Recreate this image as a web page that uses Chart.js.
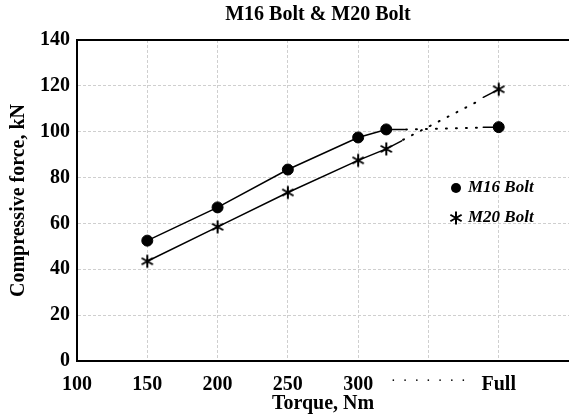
<!DOCTYPE html>
<html>
<head>
<meta charset="utf-8">
<script src="https://cdn.jsdelivr.net/npm/chart.js@4"></script>
<style>
  html, body { margin: 0; padding: 0; background: #fff; }
  #wrap { width: 569px; height: 416px; }
</style>
</head>
<body>
<div id="wrap"><canvas id="c"></canvas></div>
<script>
// x = 400 stands for "Full" torque
const torque = [150, 200, 250, 300, 320, 400];
const m16 = [52.5, 67, 83.5, 97.5, 101, 102];
const m20 = [43.5, 58.5, 73.5, 87.5, 92.5, 118.5];

// trend lines (solid part, dotted jump to Full, short solid tail)
const m16SolidX = [150, 200, 250, 300, 320, 333];
const m16SolidY = [52.5, 67, 83.5, 97.5, 101, 101];
const m16DotX = [334, 387];
const m16DotY = [101, 101.8];
const m16TailX = [389, 400];
const m16TailY = [102, 102];

const m20SolidX = [150, 200, 250, 300, 320, 331];
const m20SolidY = [43.5, 58.5, 73.5, 87.5, 92.5, 96];
const m20DotX = [332, 386];
const m20DotY = [96.5, 113.5];
const m20TailX = [389, 400];
const m20TailY = [115, 118.5];

const xTicks = { 350: '·  ·  ·  ·  ·  ·  ·', 400: 'Full', 450: '' };
const yTicks = [0, 20, 40, 60, 80, 100, 120, 140];

const serif = '"Liberation Serif", "Times New Roman", serif';
const pts = (xs, ys) => xs.map((x, i) => ({ x: x, y: ys[i] }));

function lineSet(xs, ys, dash) {
  return {
    data: pts(xs, ys),
    showLine: true,
    borderColor: '#000',
    borderWidth: dash ? 2 : 1.5,
    borderDash: dash || [],
    borderCapStyle: 'round',
    pointRadius: 0,
    fill: false
  };
}

function drawMarker(ctx, style, x, y, r) {
  ctx.save();
  ctx.fillStyle = '#000';
  ctx.strokeStyle = '#000';
  ctx.lineWidth = 2;
  if (style === 'circle') {
    ctx.beginPath();
    ctx.arc(x, y, r, 0, Math.PI * 2);
    ctx.fill();
  } else {
    ctx.beginPath();
    for (let a = 0; a < 3; a++) {
      const t = Math.PI / 2 + a * Math.PI / 3;
      ctx.moveTo(x - Math.cos(t) * r, y - Math.sin(t) * r);
      ctx.lineTo(x + Math.cos(t) * r, y + Math.sin(t) * r);
    }
    ctx.stroke();
  }
  ctx.restore();
}

// six-armed asterisk used as the M20 point style
const starImg = document.createElement('canvas');
starImg.width = 16;
starImg.height = 16;
drawMarker(starImg.getContext('2d'), 'star', 8, 8, 6.5);

const decor = {
  id: 'decor',
  afterDraw(chart) {
    const ctx = chart.ctx;
    const a = chart.chartArea;
    // top frame line
    ctx.save();
    ctx.strokeStyle = '#000';
    ctx.lineWidth = 2;
    ctx.beginPath();
    ctx.moveTo(a.left - 1, a.top);
    ctx.lineTo(a.right, a.top);
    ctx.stroke();
    // title
    ctx.fillStyle = '#000';
    ctx.font = 'bold 20px ' + serif;
    ctx.textAlign = 'center';
    ctx.textBaseline = 'middle';
    ctx.fillText('M16 Bolt & M20 Bolt', 318, 15);
    // legend inside plot
    ctx.font = 'italic bold 17px ' + serif;
    ctx.textAlign = 'left';
    drawMarker(ctx, 'circle', 456, 188, 5);
    ctx.fillText('M16 Bolt', 468, 188);
    drawMarker(ctx, 'star', 456, 218, 6.5);
    ctx.fillText('M20 Bolt', 468, 218);
    ctx.restore();
  }
};

new Chart(document.getElementById('c'), {
  type: 'scatter',
  data: {
    datasets: [
      lineSet(m16SolidX, m16SolidY),
      lineSet(m16DotX, m16DotY, [1, 9]),
      lineSet(m16TailX, m16TailY),
      lineSet(m20SolidX, m20SolidY),
      lineSet(m20DotX, m20DotY, [1, 9]),
      lineSet(m20TailX, m20TailY),
      {
        label: 'M16 Bolt',
        data: pts(torque, m16),
        pointStyle: 'circle',
        pointRadius: 5.5,
        backgroundColor: '#000',
        borderColor: '#000'
      },
      {
        label: 'M20 Bolt',
        data: pts(torque, m20),
        pointStyle: starImg,
        pointRadius: 7,
        backgroundColor: '#000',
        borderColor: '#000'
      }
    ]
  },
  options: {
    responsive: true,
    maintainAspectRatio: false,
    animation: false,
    layout: { autoPadding: false, padding: { top: 40, right: 0, left: 0, bottom: 0 } },
    plugins: {
      legend: { display: false },
      tooltip: { enabled: false },
      title: { display: false }
    },
    scales: {
      x: {
        type: 'linear',
        min: 100,
        max: 450,
        afterFit: s => { s.height = 55; s.paddingRight = 0; s.paddingLeft = 0; },
        ticks: {
          stepSize: 50,
          padding: 12,
          color: '#000',
          maxRotation: 0,
          autoSkip: false,
          font: ctx => ctx.tick && ctx.tick.value === 350
            ? { family: serif, size: 14, weight: 'normal' }
            : { family: serif, size: 20, weight: 'bold' },
          callback: v => (v in xTicks ? xTicks[v] : v)
        },
        grid: {
          drawTicks: false,
          color: ctx => (ctx.tick && (ctx.tick.value === 100 || ctx.tick.value === 450)) ? 'rgba(0,0,0,0)' : '#cfcfcf',
          lineWidth: 1
        },
        border: { color: '#000', width: 2, dash: [3, 2] },
        title: {
          display: true,
          text: 'Torque, Nm',
          color: '#000',
          font: { family: serif, size: 20, weight: 'bold' },
          padding: { top: 0, bottom: 0 }
        }
      },
      y: {
        min: 0,
        max: 140,
        afterFit: s => { s.width = 77; s.paddingTop = 0; s.paddingBottom = 0; },
        afterBuildTicks: s => { s.ticks = yTicks.map(v => ({ value: v })); },
        ticks: {
          padding: 7,
          color: '#000',
          font: { family: serif, size: 20, weight: 'bold' }
        },
        grid: {
          drawTicks: false,
          color: ctx => (ctx.tick && (ctx.tick.value === 0 || ctx.tick.value === 140)) ? 'rgba(0,0,0,0)' : '#cfcfcf',
          lineWidth: 1
        },
        border: { color: '#000', width: 2, dash: [3, 2] },
        title: {
          display: true,
          text: 'Compressive force, kN',
          color: '#000',
          font: { family: serif, size: 20, weight: 'bold' },
          padding: { top: 7, bottom: 10 }
        }
      }
    }
  },
  plugins: [decor]
});
</script>
</body>
</html>
